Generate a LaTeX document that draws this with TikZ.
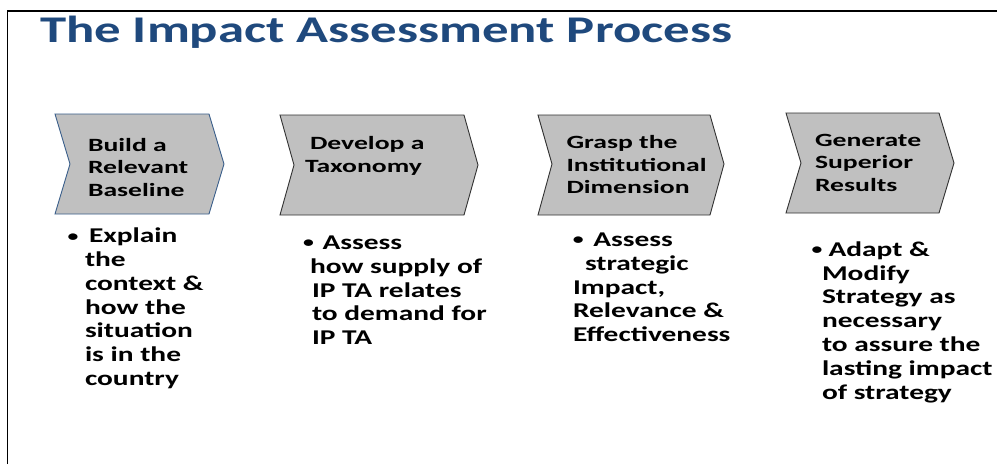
\documentclass[tikz,border=0pt]{standalone}
\usepackage{fontspec}
\newfontfamily\cbfont{Carlito}[FakeStretch=1.40]
\newfontfamily\chfont{Carlito}[FakeStretch=1.48]
\definecolor{titleblue}{RGB}{31,73,125}
\definecolor{chevfill}{RGB}{192,192,192}
\definecolor{chevblue}{RGB}{56,93,138}
\definecolor{chevgray}{RGB}{50,50,50}
\newcommand\blines[1]{\begin{tabular}[t]{@{}l@{}}#1\end{tabular}}
% bullet: #1 = offset of bullet centre from block start, #2 = gap from bullet centre to text
\newcommand\bul[2]{\hspace*{#1}\makebox[0pt][c]{\fontsize{15.5}{15.5}\selectfont\raisebox{1.6pt}{\textbullet}}\hspace*{#2}}
\tikzset{
  chev/.style={fill=chevfill, draw=chevgray, line width=0.9pt, line join=miter},
  txt/.style={anchor=base west, inner sep=0pt, outer sep=0pt, font=\cbfont\bfseries},
  chevtxt/.style={txt, font=\chfont\bfseries\fontsize{18.7}{22.6}\selectfont},
  bultxt/.style={txt, font=\cbfont\bfseries\fontsize{21}{23.8}\selectfont},
}
\begin{document}
\begin{tikzpicture}[x=1pt,y=-1pt]
\useasboundingbox (0,0) rectangle (997,464);
\fill[white] (0,0) rectangle (997,464);
% frame
\draw[line width=1.6pt] (7.5,464) -- (7.5,11) -- (997,11);
% title
\node[txt, text=titleblue, font=\cbfont\bfseries\fontsize{37.7}{40}\selectfont] (title) at (40,42) {The Impact Assessment Process};
% chevrons
\draw[chev, draw=chevblue] (55,114) -- (209,114) -- (224,164) -- (209,214) -- (55,214) -- (70,164) -- cycle;
\draw[chev] (280,115) -- (464,115) -- (478,165) -- (464,215) -- (280,215) -- (294,165) -- cycle;
\draw[chev] (538,115) -- (710,115) -- (724,164) -- (710,215) -- (538,215) -- (552,164) -- cycle;
\draw[chev] (786,113) -- (939,113) -- (954,163) -- (939,213) -- (786,213) -- (801,163) -- cycle;
% chevron texts
\node[chevtxt] (c1) at (88,151) {\blines{Build a\\Relevant\\Baseline}};
\node[chevtxt] (c2) at (305,149.5) {\blines{\hspace*{5pt}Develop a\\Taxonomy}};
\node[chevtxt] (c3) at (566.5,148.5) {\blines{Grasp the\\Institutional\\Dimension}};
\node[chevtxt] (c4) at (815,146) {\blines{Generate\\Superior\\Results}};
% bullet texts
\node[bultxt] (b1) at (85,242.7) {\blines{\bul{-12pt}{16pt}Explain\\the\\context \&\\how the\\situation\\is in the\\country}};
\node[bultxt] (b2) at (310,249.5) {\blines{\bul{-1.5pt}{14pt}Assess\\how supply of\\\hspace*{2pt}IP TA relates\\\hspace*{2pt}to demand for\\\hspace*{2pt}IP TA}};
\node[bultxt] (b3) at (573,246.5) {\blines{\bul{5.3pt}{15pt}Assess\\\hspace*{12pt}strategic\\Impact,\\Relevance \&\\Effectiveness}};
\node[bultxt] (b4) at (822,256.3) {\blines{\bul{-5pt}{11.5pt}Adapt \&\\Modify\\Strategy as\\necessary\\to assure the\\lasting impact\\of strategy}};
\end{tikzpicture}
\end{document}
